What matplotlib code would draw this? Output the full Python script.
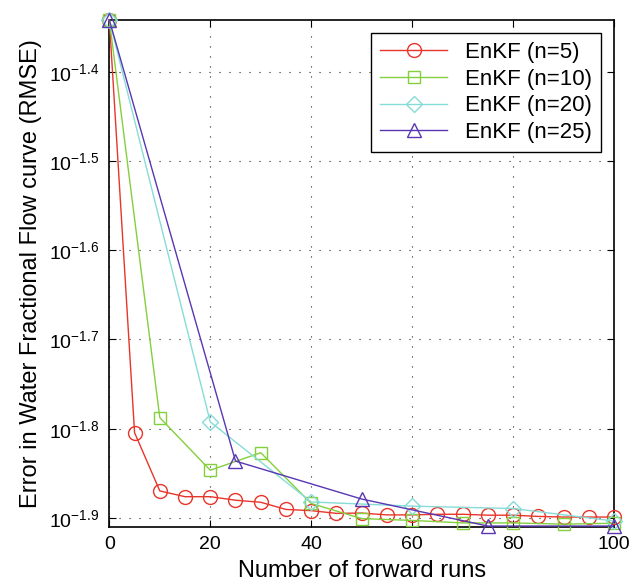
import matplotlib
matplotlib.use('Agg')
import matplotlib.pyplot as plt
from matplotlib.ticker import FixedLocator, NullLocator

plt.rcParams['font.family'] = ['Liberation Sans', 'DejaVu Sans']
plt.rcParams['mathtext.fontset'] = 'custom'
plt.rcParams['mathtext.rm'] = 'Liberation Sans'
plt.rcParams['mathtext.it'] = 'Liberation Sans'

# forward runs and RMSE
runs_n5 = [0, 5, 10, 15, 20, 25, 30, 35, 40, 45, 50, 55, 60, 65, 70, 75, 80, 85, 90, 95, 100]
rmse_n5 = [0.04550, 0.01569, 0.01350, 0.01330, 0.01330, 0.01318, 0.01311, 0.01287, 0.01283,
           0.01274, 0.01275, 0.01269, 0.01269, 0.01271, 0.01271, 0.01268, 0.01268, 0.01264,
           0.01262, 0.01262, 0.01262]

runs_n10 = [0, 10, 20, 30, 40, 50, 60, 70, 80, 90, 100]
rmse_n10 = [0.04550, 0.01631, 0.01424, 0.01490, 0.01307, 0.01257, 0.01251, 0.01243,
            0.01243, 0.01239, 0.01242]

runs_n20 = [0, 20, 40, 60, 80, 100]
rmse_n20 = [0.04550, 0.01613, 0.01312, 0.01298, 0.01290, 0.01249]

runs_n25 = [0, 25, 50, 75, 100]
rmse_n25 = [0.04550, 0.01458, 0.01322, 0.01233, 0.01233]

ytick_exp = [-1.4, -1.5, -1.6, -1.7, -1.8, -1.9]
xticks = [0, 20, 40, 60, 80, 100]

fig = plt.figure(figsize=(6.32, 5.85), dpi=100)
ax = fig.add_axes([0.173, 0.0997, 0.7985, 0.8661])

style = dict(mfc='none', lw=1, clip_on=False, zorder=3)
ax.plot(runs_n5, rmse_n5, '-o', color='#e8352a', ms=10, label='EnKF (n=5)', **style)
ax.plot(runs_n10, rmse_n10, '-s', color='#84cf3c', ms=9, label='EnKF (n=10)', **style)
ax.plot(runs_n20, rmse_n20, '-D', color='#86dcd6', ms=8, label='EnKF (n=20)', **style)
ax.plot(runs_n25, rmse_n25, '-^', color='#5836b4', ms=10, label='EnKF (n=25)', **style)

ax.set_yscale('log')
ax.set_xlim(0, 100)
ax.set_ylim(0.01231, 0.0455)
ax.yaxis.set_major_locator(FixedLocator([10 ** e for e in ytick_exp]))
ax.yaxis.set_minor_locator(NullLocator())
ax.set_yticklabels(['$10^{%.1f}$' % e for e in ytick_exp])
ax.set_xticks(xticks)

ax.tick_params(direction='in', top=True, right=True, labelsize=14, length=5, pad=7)
ax.grid(True, linestyle=(0, (1, 8)), color='#222222', lw=0.8)
for s in ax.spines.values():
    s.set_linewidth(1.2)

ax.set_xlabel('Number of forward runs', fontsize=17, labelpad=5)
ax.set_ylabel('Error in Water Fractional Flow curve (RMSE)', fontsize=17, labelpad=5)

leg = ax.legend(loc='upper right', fontsize=16, fancybox=False, edgecolor='black',
                handlelength=3.0, borderaxespad=0.6, labelspacing=0.25, framealpha=1,
                borderpad=0.4)
leg.get_frame().set_linewidth(1.0)

fig.savefig('out.png', dpi=100)
